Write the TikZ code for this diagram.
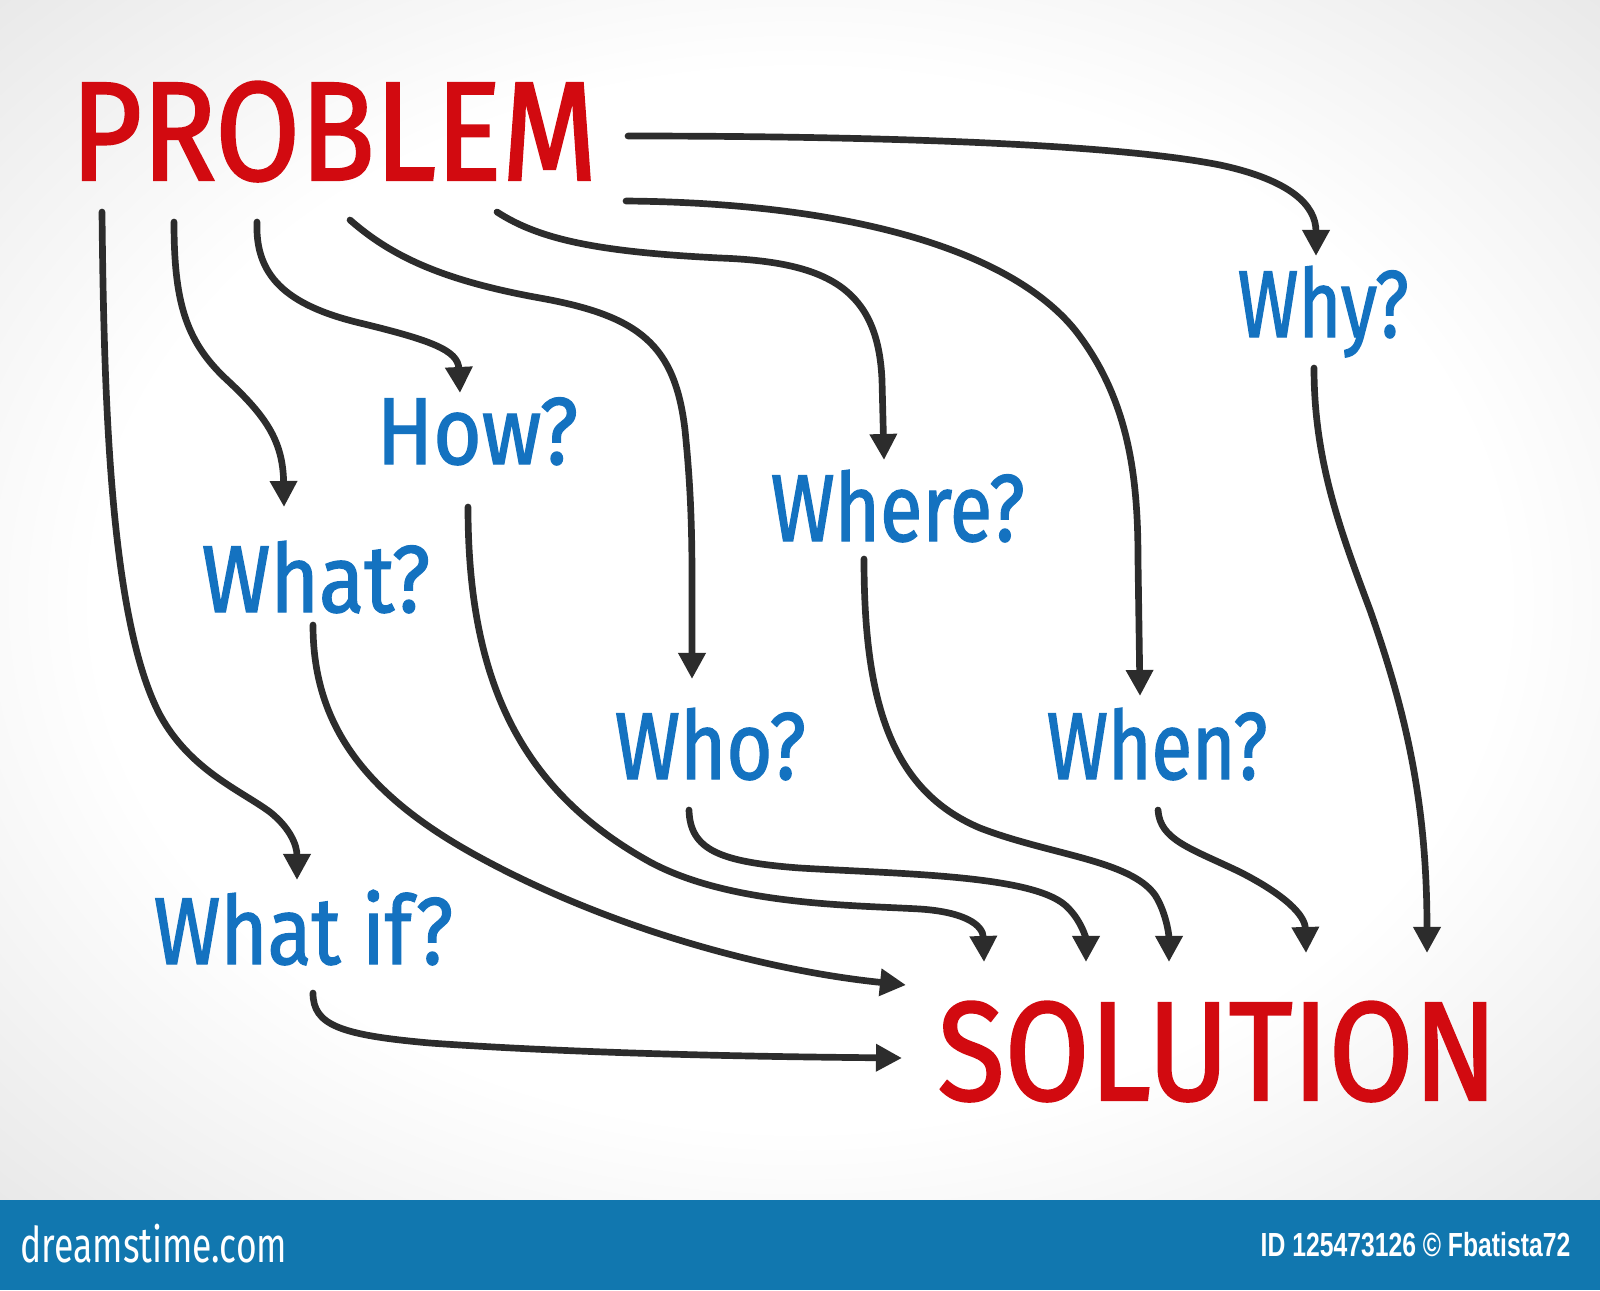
\documentclass[tikz,border=0pt]{standalone}
\usepackage{fontspec}
\usepackage{graphicx}
\usetikzlibrary{arrows.meta}
\setmainfont{Fira Sans}
\newfontfamily\handred[FakeStretch=0.873,FakeBold=1.6]{Fira Sans}
\newfontfamily\hand[FakeStretch=0.85,FakeBold=1.4]{Fira Sans}
\newfontfamily\sitefont[FakeStretch=0.72]{Fira Sans}
\newfontfamily\barfont[FakeStretch=0.74]{Liberation Sans}
\definecolor{redink}{HTML}{D20A10}
\definecolor{blueink}{HTML}{1472C0}
\definecolor{ink}{HTML}{2C2C2C}
\definecolor{barblue}{HTML}{1177AF}
\pgfdeclareradialshading{vign}{\pgfpoint{0bp}{0bp}}{color(0bp)=(white); color(22bp)=(white); color(50bp)=(black!18); color(72bp)=(black!30)}
\begin{document}
\begin{tikzpicture}[x=0.01cm,y=-0.01cm,
  arr/.style={draw=ink, line width=1.9pt, line cap=round, -{Triangle[length=7.4pt,width=7.4pt]}},
  big/.style={text=redink, font=\handred\fontsize{40}{42}\selectfont, inner sep=0pt, anchor=base west},
  q/.style={text=blueink, font=\hand\fontsize{27}{30}\selectfont, inner sep=0pt, anchor=base west},
  bar/.style={text=white, inner sep=0pt}
]
\useasboundingbox (0,0) rectangle (1600,1290);
\shade[shading=vign] (0,0) rectangle (1600,1200);
\fill[barblue] (0,1200) rectangle (1600,1290);

% texts
\node[big] (problem) at (70,180) {PROBLEM};
\node[big] (solution) at (937,1100) {SOLUTION};
\node[q] (why) at (1237,337) {\scalebox{0.91}[1]{Why?}};
\node[q] (how) at (376,464) {\scalebox{1.03}[1]{How?}};
\node[q] (where) at (770,541) {\scalebox{0.96}[1]{Where?}};
\node[q] (what) at (201,612) {\scalebox{1.03}[1]{What?}};
\node[q] (who) at (614,779) {\scalebox{0.98}[1]{Who?}};
\node[q] (when) at (1046,779) {\scalebox{0.92}[1]{When?}};
\node[q] (whatif) at (153,964) {What if?};
\node[bar, font=\sitefont\fontsize{14}{16}\selectfont, anchor=base west] (site) at (20,1262) {dreamstime.com};
\node[bar, font=\barfont\bfseries\fontsize{9.5}{10}\selectfont, anchor=base east] (credit) at (1571,1256) {ID 125473126 © Fbatista72};

% connector ends
\coordinate (p-why) at (628,136);   \coordinate (why-in) at (1316,256);
\coordinate (p-when) at (626,201);  \coordinate (when-in) at (1140,696);
\coordinate (p-where) at (497,212); \coordinate (where-in) at (884,460);
\coordinate (p-who) at (350,220);   \coordinate (who-in) at (692,679);
\coordinate (p-how) at (257,222);   \coordinate (how-in) at (460,393);
\coordinate (p-what) at (174,222);  \coordinate (what-in) at (284,507);
\coordinate (p-whatif) at (102,212);\coordinate (whatif-in) at (297,880);
\coordinate (how-out) at (468,507);   \coordinate (s-how) at (984,962);
\coordinate (who-out) at (689,810);   \coordinate (s-who) at (1086,962);
\coordinate (where-out) at (864,559); \coordinate (s-where) at (1169,962);
\coordinate (when-out) at (1158,810); \coordinate (s-when) at (1306,953);
\coordinate (why-out) at (1314,368);  \coordinate (s-why) at (1427,953);
\coordinate (what-out) at (313,625);  \coordinate (s-what) at (906,985);
\coordinate (whatif-out) at (313,993);\coordinate (s-whatif) at (902,1058);

% PROBLEM -> questions
\draw[arr] (p-why) .. controls (900,136) and (1120,145) .. (1220,165) .. controls (1290,180) and (1316,205) .. (why-in);
\draw[arr] (p-when) .. controls (850,203) and (1010,250) .. (1075,330) .. controls (1130,400) and (1138,480) .. (1138,560) -- (when-in);
\draw[arr] (p-where) .. controls (540,240) and (600,252) .. (720,258) .. controls (830,262) and (878,290) .. (882,380) -- (where-in);
\draw[arr] (p-who) .. controls (390,255) and (440,280) .. (540,298) .. controls (640,316) and (675,345) .. (685,430) .. controls (690,480) and (692,520) .. (692,580) -- (who-in);
\draw[arr] (p-how) .. controls (255,275) and (285,305) .. (360,323) .. controls (430,340) and (458,350) .. (how-in);
\draw[arr] (p-what) .. controls (174,300) and (185,340) .. (225,378) .. controls (265,415) and (283,440) .. (what-in);
\draw[arr] (p-whatif) .. controls (104,400) and (110,620) .. (160,715) .. controls (190,770) and (240,790) .. (270,812) .. controls (290,828) and (297,845) .. (whatif-in);

% questions -> SOLUTION
\draw[arr] (how-out) .. controls (468,680) and (520,790) .. (650,862) .. controls (730,905) and (850,905) .. (920,909) .. controls (965,912) and (983,925) .. (s-how);
\draw[arr] (who-out) .. controls (690,850) and (720,862) .. (800,868) .. controls (900,874) and (1030,875) .. (1065,905) .. controls (1082,920) and (1086,940) .. (s-who);
\draw[arr] (where-out) .. controls (864,700) and (890,790) .. (980,828) .. controls (1050,855) and (1130,860) .. (1155,895) .. controls (1166,912) and (1169,935) .. (s-where);
\draw[arr] (when-out) .. controls (1160,840) and (1190,848) .. (1240,872) .. controls (1285,895) and (1305,915) .. (s-when);
\draw[arr] (why-out) .. controls (1314,460) and (1340,530) .. (1370,610) .. controls (1405,710) and (1427,800) .. (s-why);
\draw[arr] (what-out) .. controls (313,720) and (360,790) .. (470,852) .. controls (600,925) and (760,970) .. (s-what);
\draw[arr] (whatif-out) .. controls (313,1025) and (340,1035) .. (430,1043) .. controls (600,1055) and (800,1057) .. (s-whatif);
\end{tikzpicture}
\end{document}
